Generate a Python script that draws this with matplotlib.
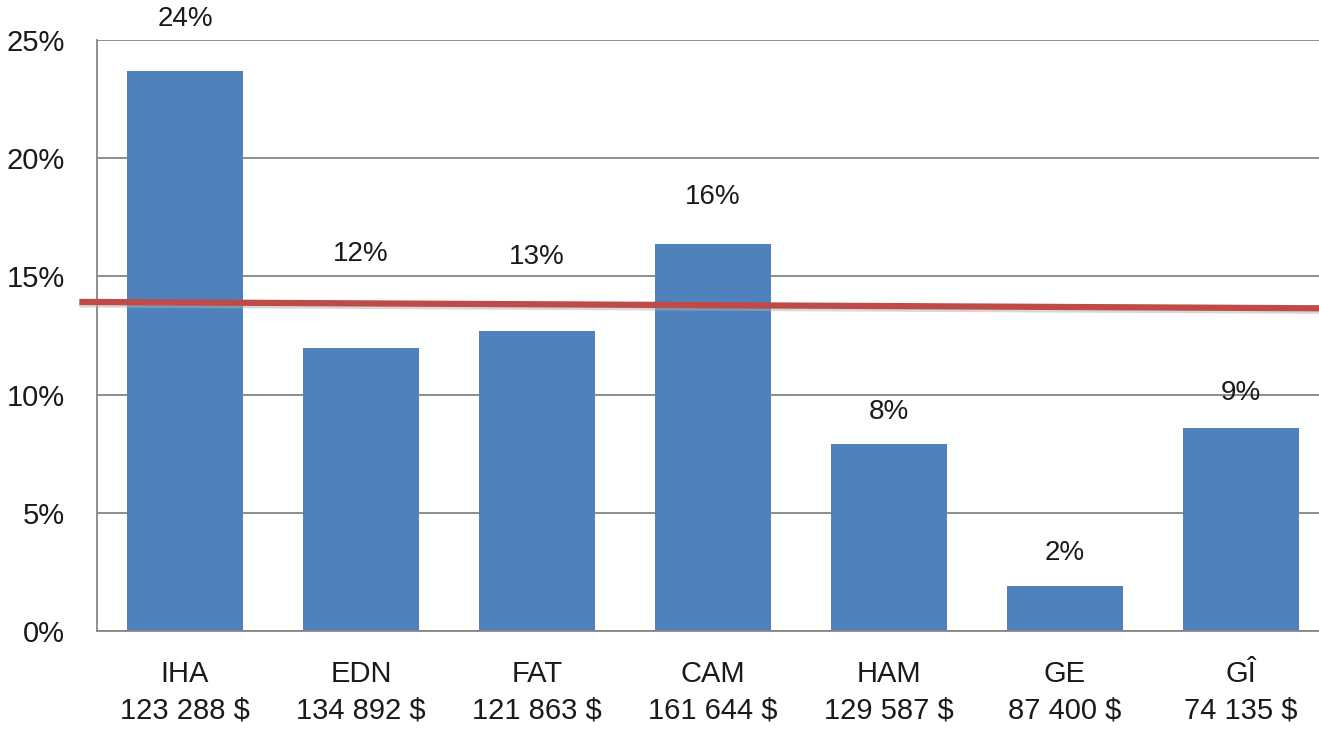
import numpy as np
import matplotlib
matplotlib.use("Agg")
from matplotlib import pyplot as plt

plt.rcParams['font.family'] = ['Liberation Sans', 'DejaVu Sans']

codes = ["IHA", "EDN", "FAT", "CAM", "HAM", "GE", "GÎ"]
amounts = ["123 288 $", "134 892 $", "121 863 $", "161 644 $", "129 587 $", "87 400 $", "74 135 $"]
shares = [23.7, 11.97, 12.69, 16.37, 7.91, 1.9, 8.59]
share_labels = ["24%", "12%", "13%", "16%", "8%", "2%", "9%"]
label_offsets = [37, 68, 53, 34, 23, 24, 25]  # points above bar top
avg_x = [-0.6, 6.5]
avg_y = [13.92, 13.65]

fig = plt.figure(figsize=(13.19, 7.30), dpi=100)
ax = fig.add_axes([0.0735, 0.1356, 0.934, 0.8096])

x = np.arange(len(codes))
ax.bar(x, shares, width=0.66, color="#4F81BD", zorder=2)

for i in range(len(codes)):
    ax.annotate(share_labels[i], (x[i], shares[i]), xytext=(0, label_offsets[i]),
                textcoords="offset points", ha="center", va="center",
                fontsize=20, color="#1a1a1a", annotation_clip=False, zorder=4)

# average line (shadow + line)
ax.plot(avg_x, [v - 0.12 for v in avg_y], color="#b0b0b0", lw=4, alpha=0.5,
        clip_on=False, zorder=3, solid_capstyle="butt")
ax.plot(avg_x, avg_y, color="#BE4B48", lw=4.5, clip_on=False, zorder=3,
        solid_capstyle="butt")

ax.set_xlim(-0.5, 6.5)
ax.set_ylim(0, 25)
ax.set_yticks([0, 5, 10, 15, 20, 25])
ax.set_yticklabels(["0%", "5%", "10%", "15%", "20%", "25%"])
ax.set_xticks(x)
ax.set_xticklabels([c + "\n" + a for c, a in zip(codes, amounts)], linespacing=1.38)
ax.tick_params(axis="both", length=0, labelsize=21, labelcolor="#1a1a1a")
ax.tick_params(axis="y", pad=23)
ax.tick_params(axis="x", pad=21)

ax.yaxis.grid(True, color="#868686", lw=1.3, zorder=0)
ax.set_axisbelow(True)
for s in ["top", "right"]:
    ax.spines[s].set_visible(False)
for s in ["left", "bottom"]:
    ax.spines[s].set_color("#868686")
    ax.spines[s].set_linewidth(1.3)

fig.savefig("out.png", dpi=100)
